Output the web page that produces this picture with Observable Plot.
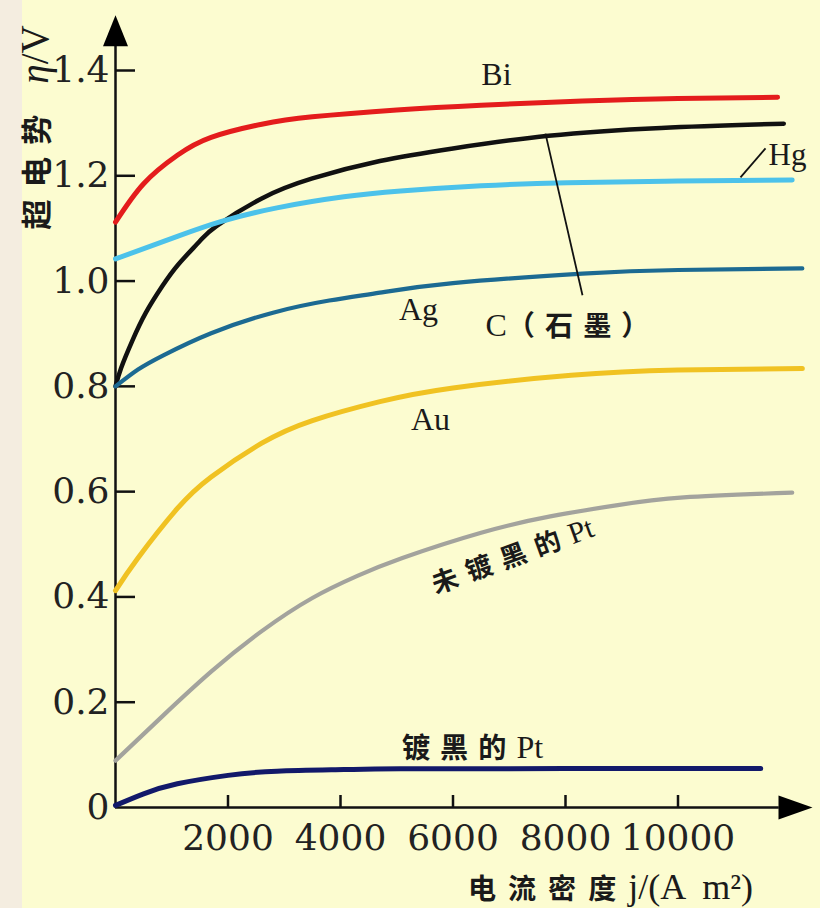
<!DOCTYPE html>
<html>
<head>
<meta charset="utf-8">
<script src="https://cdn.jsdelivr.net/npm/d3@7"></script>
<script src="https://cdn.jsdelivr.net/npm/@observablehq/plot@0.6"></script>
<style>
  html, body { margin: 0; padding: 0; }
  body { width: 820px; height: 908px; background: linear-gradient(to right, #f4ede0 0 22px, #fcfcd0 22px); }
  svg { display: block; }
</style>
</head>
<body>
<div id="chart"></div>
<script>
// ---- data ----
const seriesNames = ["Bi", "C", "Hg", "Ag", "Au", "PtRaw", "PtBlack"];
const seriesColors = ["#e41c1c", "#111111", "#4cc2ea", "#1c6a92", "#f0c222", "#a3a39d", "#12196a"];

const jBi = [0, 500, 1100, 1700, 2600, 3500, 5000, 6500, 8300, 10000, 11770];
const vBi = [1.112, 1.185, 1.239, 1.273, 1.298, 1.312, 1.325, 1.334, 1.342, 1.347, 1.349];

const jC = [0, 100, 300, 540, 830, 1120, 1500, 1800, 2600, 3500, 4700, 6000, 7700, 9700, 11880];
const vC = [0.80, 0.835, 0.887, 0.940, 0.990, 1.032, 1.076, 1.105, 1.157, 1.195, 1.228, 1.252, 1.276, 1.291, 1.299];

const jHg = [0, 1100, 1870, 2870, 4060, 5070, 6500, 8030, 10000, 12030];
const vHg = [1.042, 1.085, 1.113, 1.139, 1.160, 1.171, 1.181, 1.187, 1.190, 1.192];

const jAg = [0, 400, 850, 1700, 2800, 3800, 4700, 6000, 8300, 10000, 12210];
const vAg = [0.80, 0.832, 0.859, 0.901, 0.940, 0.963, 0.978, 0.996, 1.014, 1.021, 1.024];

const jAu = [0, 400, 1100, 1700, 2600, 3500, 4700, 6000, 8100, 10000, 12210];
const vAu = [0.412, 0.474, 0.568, 0.628, 0.692, 0.735, 0.771, 0.797, 0.821, 0.831, 0.834];

const jPtRaw = [0, 850, 1700, 2600, 3500, 4300, 5100, 6500, 7730, 8900, 10100, 12030];
const vPtRaw = [0.089, 0.175, 0.258, 0.335, 0.398, 0.440, 0.474, 0.522, 0.553, 0.574, 0.589, 0.598];

const jPtBlack = [0, 500, 1100, 2000, 2870, 4060, 5070, 8000, 11470];
const vPtBlack = [0.004, 0.026, 0.045, 0.061, 0.069, 0.072, 0.0735, 0.074, 0.074];

const xTicks = [2000, 4000, 6000, 8000, 10000];
const xTickLabels = ["2000", "4000", "6000", "8000", "10000"];
const yTicks = [0, 0.2, 0.4, 0.6, 0.8, 1.0, 1.2, 1.4];
const yTickLabels = ["0", "0.2", "0.4", "0.6", "0.8", "1.0", "1.2", "1.4"];

const yTitle = "超电势 η/V";
const xTitle = "电流密度j/(A  m²)";

// curve labels (anchored in data units)
const labelText = ["Bi", "Ag", "C（石墨）", "Au", "镀黑的Pt"];
const labelJ    = [6773, 5387, 8124, 5600, 6347];
const labelV    = [1.391, 0.946, 0.916, 0.737, 0.114];
const hgLabel = [{t: "Hg", j: 11609, v: 1.239}];
const rotLabelText = ["未镀黑的Pt"];
const rotLabelJ = [7058];
const rotLabelV = [0.478];

// leader lines
const leaderJ1 = [7644, 11111];
const leaderV1 = [1.280, 1.197];
const leaderJ2 = [8302, 11556];
const leaderV2 = [0.973, 1.252];

// axis extents (arrow heads)
const xAxisEnd = 11800, xArrowTip = 12391;
const yAxisEnd = 1.45, yArrowTip = 1.505;

// ---- build tables ----
const seriesJ = [jBi, jC, jHg, jAg, jAu, jPtRaw, jPtBlack];
const seriesV = [vBi, vC, vHg, vAg, vAu, vPtRaw, vPtBlack];
const rows = seriesNames.flatMap((name, i) => seriesJ[i].map((j, k) => ({series: name, j, v: seriesV[i][k]})));
const labels = labelText.map((t, i) => ({t, j: labelJ[i], v: labelV[i]}));
const rotLabels = rotLabelText.map((t, i) => ({t, j: rotLabelJ[i], v: rotLabelV[i]}));
const leaders = leaderJ1.map((j1, i) => ({j1, v1: leaderV1[i], j2: leaderJ2[i], v2: leaderV2[i]}));

const W = 820, H = 908, mL = 115, mR = 142.5, mT = 70, mB = 101;
const frameW = W - mL - mR, frameH = H - mT - mB;

const upArrow = {draw(ctx) { ctx.moveTo(0, 0); ctx.lineTo(-12.5, 31); ctx.lineTo(12.5, 31); ctx.closePath(); }};
const rightArrow = {draw(ctx) { ctx.moveTo(0, 0); ctx.lineTo(-34, -12); ctx.lineTo(-34, 12); ctx.closePath(); }};

const serif = "DejaVu Serif";
const tnr = "Liberation Serif, Noto Sans CJK SC";

const widths = {Bi: 5, C: 4.5, Hg: 5, Ag: 4.2, Au: 5, PtRaw: 4.2, PtBlack: 5};

const plot = Plot.plot({
  width: W, height: H,
  marginLeft: mL, marginRight: mR, marginTop: mT, marginBottom: mB,
  style: {background: "transparent", overflow: "visible", color: "#1a1a1a"},
  x: {domain: [0, 10000]},
  y: {domain: [0, 1.4]},
  marks: [
    // axis lines
    Plot.ruleX([0], {y1: 0, y2: yAxisEnd, stroke: "#111", strokeWidth: 2.5}),
    Plot.ruleY([0], {x1: 0, x2: xAxisEnd, stroke: "#111", strokeWidth: 2.5}),
    // inward ticks
    Plot.tickY(yTicks.filter(d => d > 0), {y: d => d, stroke: "#111", strokeWidth: 2.5, insetRight: frameW - 20}),
    Plot.tickX(xTicks, {x: d => d, stroke: "#111", strokeWidth: 2.5, insetTop: frameH - 12}),
    // tick labels
    Plot.axisY(yTicks, {tickSize: 0, tickPadding: 6, fontSize: 36, fontFamily: serif, label: null,
      tickFormat: d => yTickLabels[yTicks.indexOf(d)], fill: "#222"}),
    Plot.axisX(xTicks, {tickSize: 0, tickPadding: 17, fontSize: 36, fontFamily: serif, label: null,
      tickFormat: d => xTickLabels[xTicks.indexOf(d)], fill: "#222"}),
    // curves
    ...seriesNames.map((name, i) => Plot.line(rows.filter(r => r.series === name), {
      x: "j", y: "v", stroke: seriesColors[i], strokeWidth: widths[name],
      curve: "natural", strokeLinecap: "round"
    })),
    // leader lines
    Plot.link(leaders, {x1: "j1", y1: "v1", x2: "j2", y2: "v2", stroke: "#111", strokeWidth: 1.8}),
    // labels
    Plot.text(labels, {x: "j", y: "v", text: "t", textAnchor: "middle", fontSize: 32, fontFamily: tnr, fill: "#1a1a1a"}),
    Plot.text(hgLabel, {x: "j", y: "v", text: "t", textAnchor: "start", fontSize: 31, fontFamily: tnr, fill: "#1a1a1a"}),
    Plot.text(rotLabels, {x: "j", y: "v", text: "t", rotate: -20, fontSize: 30, fontFamily: tnr, fill: "#1a1a1a"}),
    // axis titles
    Plot.text([yTitle], {frameAnchor: "top-left", dx: -80, dy: 57, rotate: -90, textAnchor: "middle", lineAnchor: "middle",
      fontSize: 39, fontFamily: tnr, fill: "#1a1a1a"}),
    Plot.text([xTitle], {frameAnchor: "bottom-left", dx: 495, dy: 80, textAnchor: "middle", lineAnchor: "middle",
      fontSize: 36, fontFamily: tnr, fill: "#1a1a1a"}),
    // arrow heads
    Plot.dot([0], {x: 0, y: yArrowTip, symbol: upArrow, r: 10, fill: "#000", stroke: "none"}),
    Plot.dot([0], {x: xArrowTip, y: 0, symbol: rightArrow, r: 10, fill: "#000", stroke: "none"})
  ]
});

// style CJK runs in a bold CJK face, Latin in serif, η italic
const cjkRe = /[\u3000-\u9fff\uff00-\uffef]/;
d3.select(plot).selectAll("text").each(function () {
  const el = this;
  if (el.querySelector("tspan")) return;
  const t = el.textContent;
  if (!cjkRe.test(t)) return;
  const isTitle = t === yTitle || t === xTitle;
  const runs = t.match(/[\u3000-\u9fff\uff00-\uffef ]+|η|[^\u3000-\u9fff\uff00-\uffef η]+/g);
  el.textContent = "";
  for (const r of runs) {
    const ts = d3.select(el).append("tspan").text(r);
    if (cjkRe.test(r)) {
      ts.attr("font-family", "Noto Sans CJK SC").attr("font-weight", 700)
        .attr("letter-spacing", isTitle ? "12px" : "10px")
        .attr("font-size", isTitle ? "0.78em" : "0.88em");
    } else if (r === "η") {
      ts.attr("font-family", "Liberation Serif").attr("font-style", "italic");
    } else {
      ts.attr("font-family", "Liberation Serif");
    }
  }
});

document.getElementById("chart").appendChild(plot);
</script>
</body>
</html>
